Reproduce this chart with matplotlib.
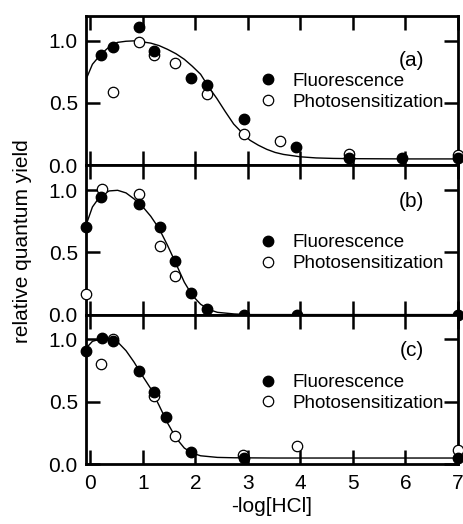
import matplotlib
matplotlib.use('Agg')
import matplotlib.pyplot as plt

plt.rcParams['font.family'] = ['Liberation Sans', 'DejaVu Sans']

# panel (a)
a_fl_x = [0.21, 0.44, 0.93, 1.22, 1.91, 2.23, 2.92, 3.92, 4.92, 5.93, 7.0]
a_fl_y = [0.887, 0.95, 1.107, 0.92, 0.70, 0.645, 0.373, 0.145, 0.059, 0.054, 0.054]
a_ph_x = [0.43, 0.92, 1.22, 1.61, 2.22, 2.92, 3.62, 4.92, 7.0]
a_ph_y = [0.589, 0.99, 0.885, 0.82, 0.575, 0.25, 0.194, 0.091, 0.08]
a_fit_x = [-0.08, 0.04, 0.2, 0.36, 0.52, 0.68, 0.83, 0.99, 1.15, 1.31, 1.47, 1.63, 1.79,
           1.94, 2.1, 2.25, 2.41, 2.57, 2.73, 2.89, 3.04, 3.2, 3.36, 3.52, 3.68, 4.0,
           4.3, 4.63, 5.0, 6.0, 7.0]
a_fit_y = [0.69, 0.81, 0.89, 0.95, 0.986, 0.995, 0.998, 0.99, 0.98, 0.96, 0.93, 0.895, 0.85,
           0.795, 0.73, 0.63, 0.535, 0.43, 0.33, 0.26, 0.20, 0.16, 0.127, 0.102, 0.086, 0.067,
           0.058, 0.054, 0.052, 0.05, 0.05]

# panel (b)
b_fl_x = [-0.08, 0.21, 0.92, 1.32, 1.62, 1.91, 2.23, 2.93, 3.93, 7.0]
b_fl_y = [0.70, 0.945, 0.886, 0.70, 0.43, 0.17, 0.043, 0.0, 0.0, 0.0]
b_ph_x = [-0.08, 0.23, 0.92, 1.32, 1.62]
b_ph_y = [0.169, 1.006, 0.966, 0.55, 0.31]
b_fit_x = [-0.08, 0.04, 0.2, 0.36, 0.52, 0.68, 0.83, 0.99, 1.15, 1.31, 1.47, 1.63, 1.79,
           1.94, 2.1, 2.26, 2.42, 2.74, 3.0, 7.0]
b_fit_y = [0.72, 0.864, 0.958, 0.993, 0.998, 0.977, 0.93, 0.87, 0.79, 0.69, 0.556, 0.41, 0.26,
           0.155, 0.083, 0.04, 0.018, 0.005, 0.0, 0.0]

# panel (c)
c_fl_x = [-0.08, 0.23, 0.44, 0.92, 1.22, 1.44, 1.91, 2.93, 7.0]
c_fl_y = [0.907, 1.013, 0.984, 0.745, 0.58, 0.375, 0.10, 0.048, 0.048]
c_ph_x = [0.2, 0.44, 1.22, 1.62, 2.9, 3.93, 7.0]
c_ph_y = [0.80, 1.0, 0.545, 0.226, 0.07, 0.146, 0.11]
c_fit_x = [-0.08, 0.04, 0.2, 0.36, 0.52, 0.68, 0.83, 0.99, 1.15, 1.31, 1.47, 1.63, 1.79,
           1.94, 2.1, 2.42, 2.74, 3.5, 7.0]
c_fit_y = [0.93, 0.985, 1.005, 1.005, 0.98, 0.91, 0.82, 0.71, 0.606, 0.47, 0.33, 0.21, 0.128,
           0.088, 0.066, 0.053, 0.05, 0.048, 0.048]

panels = [
    ('(a)', a_fl_x, a_fl_y, a_ph_x, a_ph_y, a_fit_x, a_fit_y, 0.70, 0.49),
    ('(b)', b_fl_x, b_fl_y, b_ph_x, b_ph_y, b_fit_x, b_fit_y, 0.76, 0.41),
    ('(c)', c_fl_x, c_fl_y, c_ph_x, c_ph_y, c_fit_x, c_fit_y, 0.76, 0.475),
]

fig, axes = plt.subplots(3, 1, sharex=True, figsize=(4.63, 5.24), dpi=100)
fig.subplots_adjust(left=0.186, right=0.989, bottom=0.1145, top=0.970, hspace=0)

for ax, (tag, fx, fy, px, py, lx, ly, tag_y, leg_y) in zip(axes, panels):
    ax.plot(lx, ly, color='black', lw=1.0, zorder=2)
    ax.plot(fx, fy, 'o', color='black', ms=7.5, clip_on=False, zorder=4, label='Fluorescence')
    ax.plot(px, py, 'o', mfc='white', mec='black', mew=0.9, ms=7.5, clip_on=False, zorder=3,
            label='Photosensitization')
    ax.set_xlim(-0.08, 7.0)
    ax.set_ylim(0, 1.2)
    ax.set_yticks([0.0, 0.5, 1.0])
    ax.set_yticklabels(['0.0', '0.5', '1.0'])
    ax.set_xticks(range(8))
    ax.tick_params(direction='in', length=10, width=1.8, top=True, right=True, labelsize=15)
    ax.tick_params(axis='x', pad=7)
    ax.tick_params(axis='y', pad=6)
    for s in ax.spines.values():
        s.set_linewidth(2)
    ax.text(0.875, tag_y, tag, transform=ax.transAxes, fontsize=15, ha='center', va='center')
    ax.legend(loc='center left', bbox_to_anchor=(0.44, leg_y), frameon=False, fontsize=13.5,
              handlelength=1.0, handletextpad=0.8, labelspacing=0.2, borderpad=0)

axes[2].set_xlabel('-log[HCl]', fontsize=15, labelpad=3)
fig.text(0.048, 0.54, 'relative quantum yield', rotation=90, fontsize=15, ha='center', va='center')

fig.savefig('out.png', dpi=100)
